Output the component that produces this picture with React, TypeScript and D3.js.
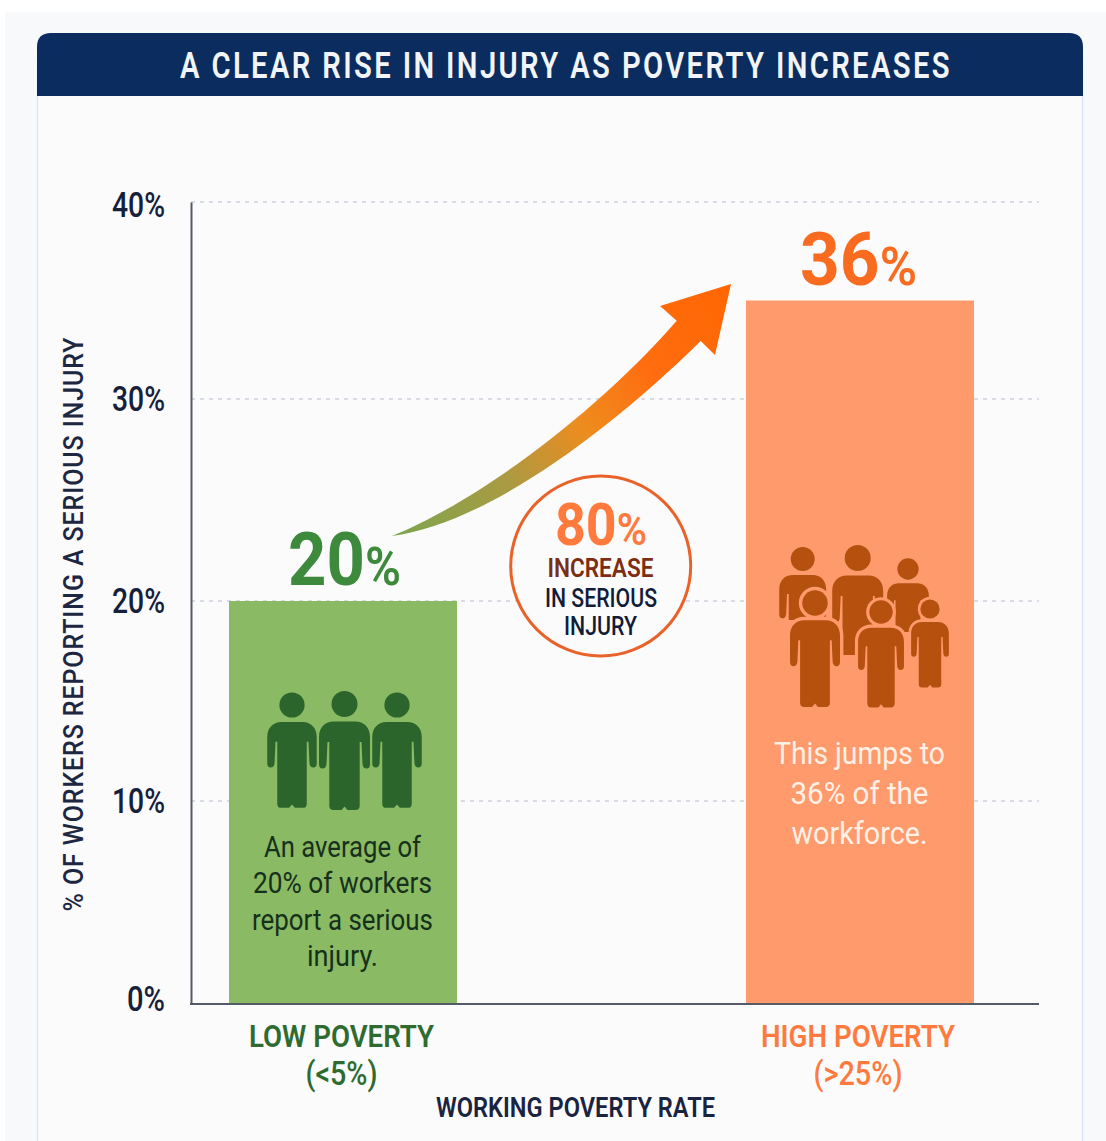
import * as d3 from 'd3';
import { useEffect, useRef } from 'react';

const title = 'A CLEAR RISE IN INJURY AS POVERTY INCREASES';
const yAxisLabel = '% OF WORKERS REPORTING A SERIOUS INJURY';
const xAxisLabel = 'WORKING POVERTY RATE';
const yTicks = [0, 10, 20, 30, 40];
const categories = ['LOW POVERTY', 'HIGH POVERTY'];
const categoryRanges = ['(<5%)', '(>25%)'];
// drawn bar heights as read against the axis, the printed label of the second bar says 36
const barHeights = [20, 35];
const barLabels = ['20', '36'];

const FONT = 'Roboto, sans-serif';
const barFill = ['#8aba63', '#ff9a6c'];
const labelFill = ['#3d8a3c', '#f96c20'];
const catFill = ['#2f6b2f', '#ff7a3c'];
const iconFill = ['#2c652c', '#b5500f'];

const y = d3.scaleLinear().domain(yTicks).range([1004, 801, 601, 399, 202]);
const x = d3.scaleBand().domain(categories).range([229, 974]).paddingInner(0.559);

type Txt = {
  x: number;
  y: number;
  text: string;
  size: number;
  width: number;
  fill: string;
  weight?: number;
  anchor?: string;
  spacing?: number;
  pctSize?: number;
};

// body of the person icon, head centre is the origin
const personBody =
  'M-11,17.5 H11 C19,17.5 25.5,23 25.5,33 V60 Q25.5,64.5 22,64.5 Q18.5,64.5 18,60 L17,38 H15.2 V102 Q15,106 11,106 H3 L0,102.5 L-3,106 H-11 Q-15,106 -15.2,102 V38 H-17 L-18,60 Q-18.5,64.5 -22,64.5 Q-25.5,64.5 -25.5,60 V33 C-25.5,23 -19,17.5 -11,17.5 Z';

const lowCrowd = [
  { x: 292, y: 705, k: 0.97 },
  { x: 344.5, y: 704, k: 1 },
  { x: 397, y: 705, k: 0.97 },
];
const highBack = [
  { x: 802.7, y: 559, k: 0.92, cut: 620 },
  { x: 857.7, y: 558, k: 1, cut: 655 },
  { x: 908, y: 569, k: 0.82, cut: 632 },
];
const highFront = [
  { x: 815, y: 603, k: 0.98 },
  { x: 881, y: 612, k: 0.9 },
  { x: 930, y: 609, k: 0.74 },
];

const lowNote = ['An average of', '20% of workers', 'report a serious', 'injury.'];
const highNote = ['This jumps to', '36% of the', 'workforce.'];

export default function App() {
  const ref = useRef<SVGSVGElement>(null);

  useEffect(() => {
    const svg = d3.select(ref.current);
    svg.selectAll('*').remove();

    const put = (t: Txt) => {
      const el = svg
        .append('text')
        .attr('x', t.x)
        .attr('y', t.y)
        .attr('font-family', FONT)
        .attr('font-size', t.size)
        .attr('font-weight', t.weight ?? 500)
        .attr('fill', t.fill)
        .attr('text-anchor', t.anchor ?? 'middle')
        .attr('textLength', t.width)
        .attr('lengthAdjust', 'spacingAndGlyphs')
        .attr('letter-spacing', t.spacing ?? 0)
        .text(t.text);
      if (t.pctSize) el.append('tspan').attr('font-size', t.pctSize).attr('font-weight', 600).text('%');
      return el;
    };

    const defs = svg.append('defs');
    const grad = defs
      .append('linearGradient')
      .attr('id', 'arrowFill')
      .attr('gradientUnits', 'userSpaceOnUse')
      .attr('x1', 391)
      .attr('y1', 536)
      .attr('x2', 731)
      .attr('y2', 284);
    [
      [0, '#7ba64f'],
      [0.3, '#ab9a42'],
      [0.52, '#ee8c1e'],
      [0.72, '#ff6d10'],
      [1, '#ff6600'],
    ].forEach(([o, c]) => grad.append('stop').attr('offset', o).attr('stop-color', c));

    // page and panel
    svg.append('rect').attr('width', 1106).attr('height', 1141).attr('fill', '#ffffff');
    svg.append('rect').attr('x', 5).attr('y', 12).attr('width', 1101).attr('height', 1129).attr('fill', '#f8f9fa');
    svg
      .append('rect')
      .attr('x', 37.5)
      .attr('y', 60)
      .attr('width', 1045)
      .attr('height', 1100)
      .attr('fill', '#fbfbfc')
      .attr('stroke', '#dce7f6')
      .attr('stroke-width', 1.5);
    svg
      .append('path')
      .attr('d', 'M37,96 V47 Q37,33 51,33 H1069 Q1083,33 1083,47 V96 Z')
      .attr('fill', '#0b2c5e');
    put({ x: 566, y: 78, text: title, size: 37, width: 772, fill: '#f2f4f7', weight: 600, spacing: 3 });

    // grid
    svg
      .append('g')
      .selectAll('line')
      .data(yTicks.slice(1))
      .enter()
      .append('line')
      .attr('x1', 191)
      .attr('x2', 1039)
      .attr('y1', (d) => y(d))
      .attr('y2', (d) => y(d))
      .attr('stroke', '#ccd2dc')
      .attr('stroke-width', 1.5)
      .attr('stroke-dasharray', '4 5');

    // bars
    svg
      .selectAll('.bar')
      .data(categories)
      .enter()
      .append('rect')
      .attr('class', 'bar')
      .attr('x', (d) => x(d)!)
      .attr('y', (_d, i) => y(barHeights[i]))
      .attr('width', x.bandwidth())
      .attr('height', (_d, i) => y(0) - y(barHeights[i]))
      .attr('fill', (_d, i) => barFill[i]);

    // axes
    const yAxis = svg
      .append('g')
      .attr('transform', 'translate(191,0)')
      .call(d3.axisLeft(y).tickValues(yTicks).tickSize(0).tickPadding(26).tickFormat((d) => `${d}%`));
    yAxis.select('.domain').attr('stroke', '#555b66').attr('stroke-width', 2);
    yAxis
      .selectAll('text')
      .attr('font-family', FONT)
      .attr('font-size', 35)
      .attr('font-weight', 500)
      .attr('fill', '#16203a')
      .attr('textLength', (d) => (d === 0 ? 38 : 53))
      .attr('lengthAdjust', 'spacingAndGlyphs')
      .attr('dy', (d) => (d === 0 ? '0.18em' : d === 40 ? '0.4em' : '0.32em'));
    svg
      .append('line')
      .attr('x1', 190)
      .attr('x2', 1039)
      .attr('y1', y(0))
      .attr('y2', y(0))
      .attr('stroke', '#555b66')
      .attr('stroke-width', 2);

    svg
      .append('text')
      .attr('transform', 'translate(83,624) rotate(-90)')
      .attr('text-anchor', 'middle')
      .attr('font-family', FONT)
      .attr('font-size', 27)
      .attr('font-weight', 500)
      .attr('fill', '#1d2742')
      .attr('letter-spacing', 1)
      .attr('textLength', 575)
      .attr('lengthAdjust', 'spacingAndGlyphs')
      .text(yAxisLabel);

    // category labels
    const catWidth = [185, 194];
    const rangeWidth = [72, 89];
    const catCenter = [341.5, 858];
    categories.forEach((c, i) => {
      put({ x: catCenter[i], y: 1047, text: c, size: 32, width: catWidth[i], fill: catFill[i], weight: 600 });
      put({ x: catCenter[i], y: 1085, text: categoryRanges[i], size: 33, width: rangeWidth[i], fill: catFill[i] });
    });
    put({ x: 575.5, y: 1117, text: xAxisLabel, size: 27, width: 279, fill: '#1a2340', weight: 600 });

    // value labels
    const numLeft = [288, 800];
    const fullWidth = [113, 117];
    barLabels.forEach((b, i) => {
      put({
        x: numLeft[i],
        y: i ? 285 : 585,
        text: b,
        size: 74,
        width: fullWidth[i],
        fill: labelFill[i],
        weight: 700,
        anchor: 'start',
        pctSize: 54,
      });
    });

    // icons
    const drawPerson = (g: any, p: { x: number; y: number; k: number }, fill: string, halo?: string) => {
      const o = g.append('g').attr('transform', `translate(${p.x},${p.y}) scale(${p.k})`);
      [o.append('circle').attr('r', 13), o.append('path').attr('d', personBody)].forEach((s: any) => {
        s.attr('fill', fill);
        if (halo) s.attr('stroke', halo).attr('stroke-width', 7).attr('paint-order', 'stroke');
      });
    };
    const lowG = svg.append('g');
    lowCrowd.forEach((p) => drawPerson(lowG, p, iconFill[0]));
    const highG = svg.append('g');
    highBack.forEach((p, i) => {
      defs
        .append('clipPath')
        .attr('id', `cut${i}`)
        .append('rect')
        .attr('x', p.x - 40)
        .attr('y', p.y - 20)
        .attr('width', 80)
        .attr('height', p.cut - p.y + 20);
      drawPerson(highG.append('g').attr('clip-path', `url(#cut${i})`), p, iconFill[1]);
    });
    highFront.forEach((p) => drawPerson(highG, p, iconFill[1], barFill[1]));

    // notes inside the bars
    const lowW = [157, 179, 181, 71];
    const lowY = [857, 893, 930, 966];
    lowNote.forEach((t, i) =>
      put({ x: 342.5, y: lowY[i], text: t, size: 29, width: lowW[i], fill: '#16301c', weight: 400 }),
    );
    const highW = [171, 138, 136];
    const highY = [764, 804, 844];
    highNote.forEach((t, i) =>
      put({ x: 859.5, y: highY[i], text: t, size: 31, width: highW[i], fill: '#fff1e6', weight: 400 }),
    );

    // arrow
    svg
      .append('path')
      .attr(
        'd',
        'M391.7,536 C470,505 590,420 676.7,320.7 L660,306 L731,284 L715,355 L700.7,341 C600,440 480,525 391.7,536 Z',
      )
      .attr('fill', 'url(#arrowFill)');

    // badge
    svg
      .append('circle')
      .attr('cx', 600.7)
      .attr('cy', 566)
      .attr('r', 90)
      .attr('fill', '#fbfbfc')
      .attr('stroke', '#e9622a')
      .attr('stroke-width', 3);
    put({ x: 555, y: 545, text: '80', size: 59, width: 92, fill: '#ff7a3c', weight: 700, anchor: 'start', pctSize: 45 });
    put({ x: 600.5, y: 577, text: 'INCREASE', size: 26, width: 106, fill: '#7c2d12', weight: 600 });
    put({ x: 601, y: 607, text: 'IN SERIOUS', size: 25, width: 112, fill: '#121c38' });
    put({ x: 600.5, y: 635, text: 'INJURY', size: 25, width: 73, fill: '#121c38' });
  }, []);

  return (
    <svg
      ref={ref}
      width={1106}
      height={1141}
      viewBox="0 0 1106 1141"
      style={{ position: 'absolute', left: 0, top: 0, display: 'block' }}
    />
  );
}
